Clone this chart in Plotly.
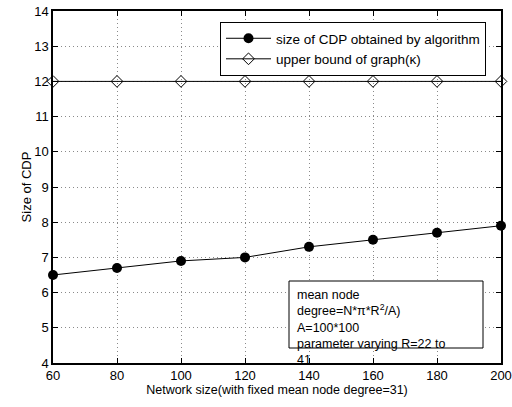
import plotly.graph_objects as go

network_size = [60, 80, 100, 120, 140, 160, 180, 200]
cdp_size = [6.5, 6.7, 6.9, 7.0, 7.3, 7.5, 7.7, 7.9]
upper_bound = [12, 12, 12, 12, 12, 12, 12, 12]
x_ticks = [60, 80, 100, 120, 140, 160, 180, 200]
y_ticks = [4, 5, 6, 7, 8, 9, 10, 11, 12, 13, 14]

font = "Liberation Sans, Arial, sans-serif"

fig = go.Figure()
fig.add_trace(go.Scatter(
    x=network_size, y=cdp_size, mode="lines+markers",
    name="size of CDP obtained by algorithm",
    line=dict(color="black", width=1),
    marker=dict(symbol="circle", size=10, color="black"),
    cliponaxis=False,
))
fig.add_trace(go.Scatter(
    x=network_size, y=upper_bound, mode="lines+markers",
    name="upper bound of graph(κ)",
    line=dict(color="black", width=1),
    marker=dict(symbol="diamond-open", size=9, color="black", line=dict(width=1)),
    cliponaxis=False,
))

axis_common = dict(
    showline=True, linecolor="black", linewidth=1.5, mirror="ticks",
    ticks="inside", ticklen=5, tickcolor="black",
    showgrid=True, gridcolor="#8a8a8a", griddash="1px,3px", gridwidth=1,
    zeroline=False, tickfont=dict(size=13, color="black", family=font),
    automargin=False,
)

fig.update_xaxes(range=[60, 200], tickvals=x_ticks,
                 title=dict(text="Network size(with fixed mean node degree=31)",
                            font=dict(size=12.5, color="black", family=font), standoff=3),
                 **axis_common)
fig.update_yaxes(range=[4, 14], tickvals=y_ticks,
                 title=dict(text="Size of CDP",
                            font=dict(size=13, color="black", family=font), standoff=0),
                 **axis_common)

# text box
fig.add_shape(type="rect", xref="x", yref="y",
              x0=60 + (289 - 53) / 448 * 140, x1=60 + (483 - 53) / 448 * 140,
              y0=14 - (348 - 11) / 35.2, y1=14 - (281 - 11) / 35.2,
              line=dict(color="black", width=1), fillcolor="white", layer="above")
fig.add_annotation(
    xref="x", yref="y",
    x=60 + (295 - 53) / 448 * 140, y=14 - (286 - 11) / 35.2,
    xanchor="left", yanchor="top", align="left", showarrow=False,
    text="mean node<br>degree=N*π*R<sup>2</sup>/A)<br>A=100*100<br>parameter varying R=22 to<br>41",
    font=dict(size=12.5, color="black", family=font),
)

fig.update_layout(
    width=512, height=407,
    margin=dict(l=53, r=11, t=11, b=44),
    paper_bgcolor="white", plot_bgcolor="white",
    font=dict(family=font, size=12, color="black"),
    legend=dict(x=(486 - 53) / 448, y=(363 - 22) / 352, xanchor="right", yanchor="top",
                bgcolor="white", bordercolor="black", borderwidth=1,
                font=dict(size=13.5, color="black", family=font),
                tracegroupgap=0, itemwidth=45),
    showlegend=True,
)

fig.write_html("out.html",
               config={"displayModeBar": False},
               post_script="document.body.style.margin='0';document.body.style.overflow='hidden';")
